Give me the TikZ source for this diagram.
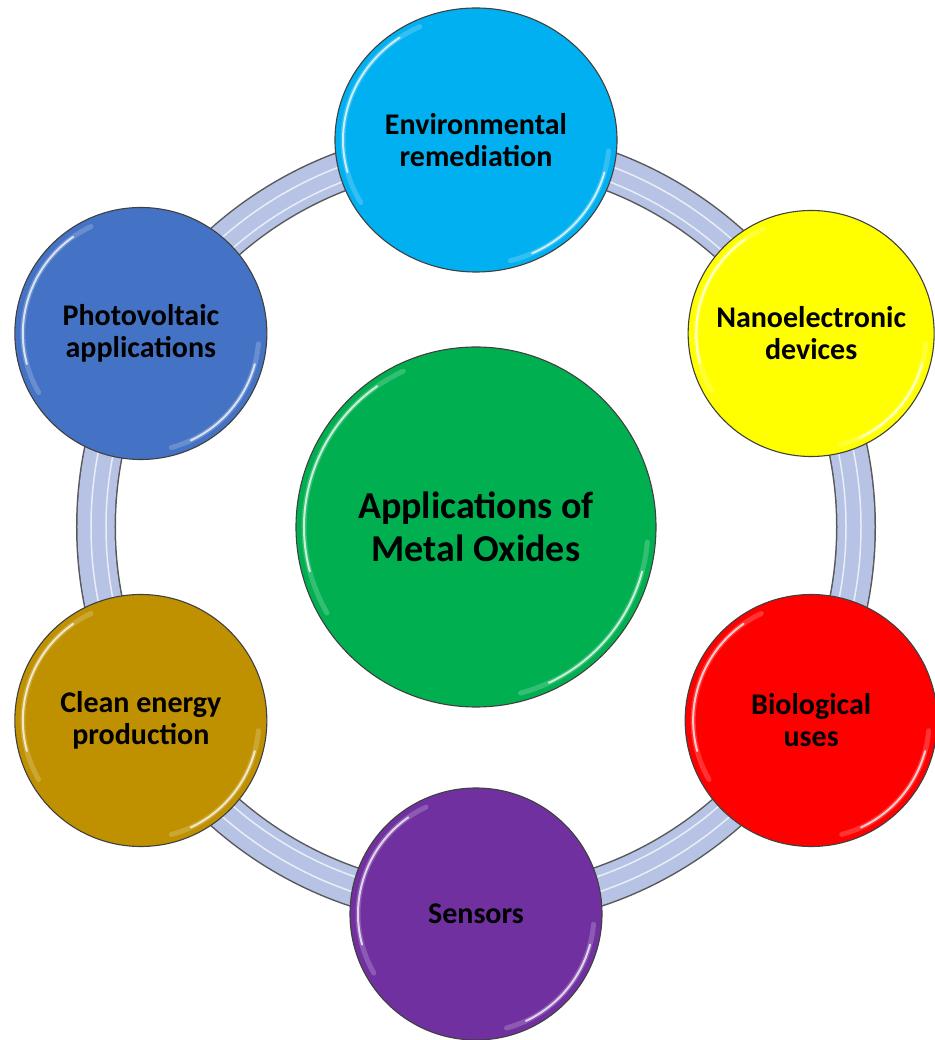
\documentclass[tikz,border=0pt]{standalone}
\usepackage{fontspec}
\setmainfont{Carlito}
\usetikzlibrary{shapes.geometric}

\definecolor{hubgreen}{HTML}{00B050}
\definecolor{envblue}{HTML}{00B0F0}
\definecolor{nanoyellow}{HTML}{FFFF00}
\definecolor{biored}{HTML}{FF0000}
\definecolor{senspurple}{HTML}{7030A0}
\definecolor{cleangold}{HTML}{BF9000}
\definecolor{pvblue}{HTML}{4472C4}
\definecolor{ringfill}{HTML}{B6C3E4}

\begin{document}
\begin{tikzpicture}[
    x=1pt, y=1pt,
    hub/.style={circle, draw=black!75, fill=hubgreen, line width=1.1pt,
      inner sep=0pt, minimum size=360pt, align=center,
      font=\fontsize{38}{43}\selectfont\bfseries},
    app/.style={circle, draw=black!75, line width=1.1pt,
      inner sep=0pt, minimum size=252pt, align=center,
      font=\fontsize{30}{32}\selectfont\bfseries},
    gloss/.style 2 args={path picture={
      \draw[white, line width=5pt, opacity=0.2, line cap=round]
        (path picture bounding box.center) ++(115:#1 and #2)
        arc[start angle=115, end angle=210, x radius=#1, y radius=#2];
      \draw[white, line width=2pt, opacity=0.75, line cap=round]
        (path picture bounding box.center) ++(125:#1 and #2)
        arc[start angle=125, end angle=195, x radius=#1, y radius=#2];
      \draw[white, line width=5pt, opacity=0.2, line cap=round]
        (path picture bounding box.center) ++(-75:#1 and #2)
        arc[start angle=-75, end angle=-5, x radius=#1, y radius=#2];
      \draw[white, line width=2pt, opacity=0.75, line cap=round]
        (path picture bounding box.center) ++(-65:#1 and #2)
        arc[start angle=-65, end angle=-15, x radius=#1, y radius=#2];}}]
  \useasboundingbox (-476,-513) rectangle (458,527);
  % the ring behind the circles
  \draw[black!65, line width=40pt] (0,0) circle (380);
  \draw[ringfill, line width=37pt] (0,0) circle (380);
  \draw[white, line width=1.5pt, opacity=0.7] (0,0) circle (385);
  \draw[white, line width=1.5pt, opacity=0.7] (0,0) circle (370);
  % centre
  \node[hub, gloss={172}{172}] (hub) at (0,0) {Applications of\\Metal Oxides};
  % applications round the ring
  \node[app, ellipse, minimum width=282pt, minimum height=264pt,
        fill=envblue, gloss={133}{125}] (env) at (90:387)
        {Environmental\\remediation};
  \node[app, fill=nanoyellow, minimum size=246pt, gloss={115}{115}] (nano) at (30:387)
        {Nanoelectronic\\devices};
  \node[app, fill=biored, gloss={118}{118}] (bio) at (-30:387)
        {Biological\\uses};
  \node[app, fill=senspurple, gloss={118}{118}] (sens) at (-90:387)
        {Sensors};
  \node[app, fill=cleangold, gloss={118}{118}] (clean) at (-150:387)
        {Clean energy\\production};
  \node[app, fill=pvblue, gloss={118}{118}] (pv) at (150:387)
        {Photovoltaic\\applications};
\end{tikzpicture}
\end{document}
